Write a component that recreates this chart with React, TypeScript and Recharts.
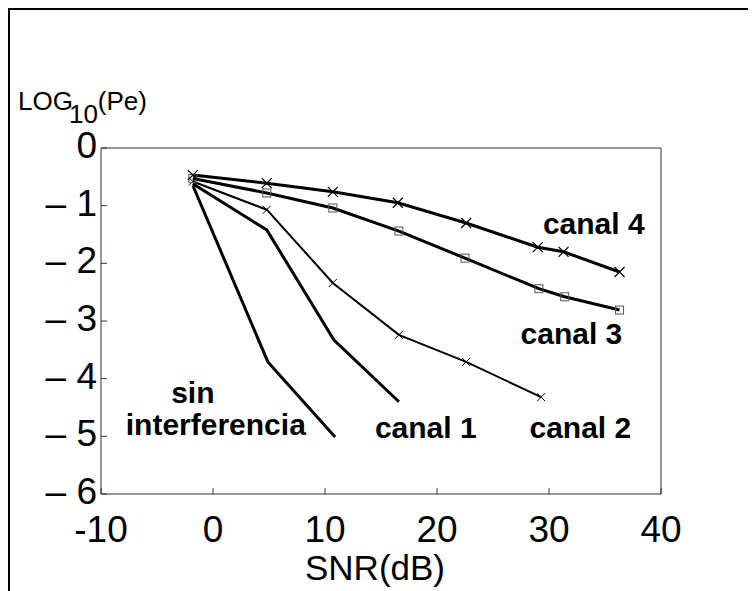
import { LineChart, Line, XAxis, YAxis, ReferenceLine, ReferenceDot, Label } from 'recharts';

// SNR (dB) positions
const snrSin = [-1.8, 4.9, 10.9];
const logPeSin = [-0.65, -3.71, -5.01];

const snrCanal1 = [-1.8, 4.8, 10.8, 16.6];
const logPeCanal1 = [-0.62, -1.42, -3.33, -4.4];

const snrCanal2 = [-1.8, 4.8, 10.7, 16.6, 22.6, 29.3];
const logPeCanal2 = [-0.58, -1.07, -2.34, -3.24, -3.71, -4.32];

const snrCanal3 = [-1.8, 4.8, 10.7, 16.6, 22.5, 29.1, 31.4, 36.3];
const logPeCanal3 = [-0.53, -0.78, -1.04, -1.44, -1.91, -2.44, -2.58, -2.81];

const snrCanal4 = [-1.8, 4.8, 10.7, 16.5, 22.6, 29.0, 31.3, 36.3];
const logPeCanal4 = [-0.47, -0.61, -0.76, -0.95, -1.3, -1.72, -1.8, -2.15];

const xTicks = [-10, 0, 10, 20, 30, 40];
const yTicks = [0, -1, -2, -3, -4, -5, -6];

// curve names, placed at data coordinates
const labelText = ['canal 4', 'canal 3', 'canal 2', 'canal 1', 'sin', 'interferencia'];
const labelSnr = [34.0, 32.0, 32.8, 19.0, -1.8, 0.25];
const labelLogPe = [-1.3, -3.22, -4.85, -4.85, -4.23, -4.8];

const toPoints = (xs: number[], ys: number[]) => xs.map((x, i) => ({ snr: x, logPe: ys[i] }));

const CrossDot = (size: number, width: number) => (props: any) => {
  const { cx, cy, index } = props;
  if (cx == null || cy == null) return <g key={index} />;
  return (
    <path
      key={index}
      d={`M${cx - size},${cy - size}L${cx + size},${cy + size}M${cx - size},${cy + size}L${cx + size},${cy - size}`}
      stroke="#000"
      strokeWidth={width}
      fill="none"
    />
  );
};

const SquareDot = (props: any) => {
  const { cx, cy, index } = props;
  if (cx == null || cy == null) return <g key={index} />;
  return <rect key={index} x={cx - 4} y={cy - 4} width={8} height={8} fill="none" stroke="#555" strokeWidth={1} />;
};

const yLabel = () => (
  <text x={8} y={100} fontSize={26} fill="#000">
    LOG
    <tspan dx={-4} dy={13}>10</tspan>
    <tspan dy={-13}>(Pe)</tspan>
  </text>
);

export default function App() {
  return (
    <div
      style={{
        width: 748,
        height: 584,
        marginTop: -1,
        marginLeft: -1,
        borderTop: '3px solid #000',
        borderLeft: '3px solid #000',
        fontFamily: '"Liberation Sans", Arial, sans-serif',
        background: '#fff',
      }}
    >
      <LineChart width={745} height={581} margin={{ top: 138, right: 94, bottom: 0, left: 0 }}>
        <XAxis
          type="number"
          dataKey="snr"
          domain={[-10, 40]}
          ticks={xTicks}
          allowDataOverflow
          height={97}
          tickSize={-6}
          tickMargin={28}
          tick={{ fontSize: 37, fill: '#000' }}
          axisLine={{ stroke: '#333' }}
          tickLine={{ stroke: '#333' }}
        >
          <Label value="SNR(dB)" position="insideBottom" offset={11} dx={-6} fontSize={35} fill="#000" />
        </XAxis>
        <YAxis
          type="number"
          dataKey="logPe"
          domain={[-6, 0]}
          ticks={yTicks}
          allowDataOverflow
          width={91}
          tickSize={-6}
          tickMargin={10}
          tick={{ fontSize: 37, fill: '#000', dy: -3 }}
          tickFormatter={(v: number) => (v === 0 ? '0' : '\u2013 ' + Math.abs(v))}
          axisLine={{ stroke: '#333' }}
          tickLine={{ stroke: '#333' }}
          label={yLabel}
        />
        <ReferenceLine y={0} stroke="#333" />
        <ReferenceLine x={40} stroke="#333" />

        <Line data={toPoints(snrSin, logPeSin)} dataKey="logPe" type="linear" stroke="#000" strokeWidth={3} dot={false} isAnimationActive={false} />
        <Line data={toPoints(snrCanal1, logPeCanal1)} dataKey="logPe" type="linear" stroke="#000" strokeWidth={3} dot={false} isAnimationActive={false} />
        <Line data={toPoints(snrCanal2, logPeCanal2)} dataKey="logPe" type="linear" stroke="#000" strokeWidth={2} dot={CrossDot(4, 1)} isAnimationActive={false} />
        <Line data={toPoints(snrCanal3, logPeCanal3)} dataKey="logPe" type="linear" stroke="#000" strokeWidth={3} dot={SquareDot} isAnimationActive={false} />
        <Line data={toPoints(snrCanal4, logPeCanal4)} dataKey="logPe" type="linear" stroke="#000" strokeWidth={3} dot={CrossDot(5, 1.2)} isAnimationActive={false} />

        {labelText.map((t, i) => (
          <ReferenceDot
            key={t}
            x={labelSnr[i]}
            y={labelLogPe[i]}
            r={0}
            stroke="none"
            fill="none"
            ifOverflow="visible"
            label={{ value: t, position: 'center', fontSize: 30, fontWeight: 'bold', fill: '#000' }}
          />
        ))}
      </LineChart>
    </div>
  );
}
